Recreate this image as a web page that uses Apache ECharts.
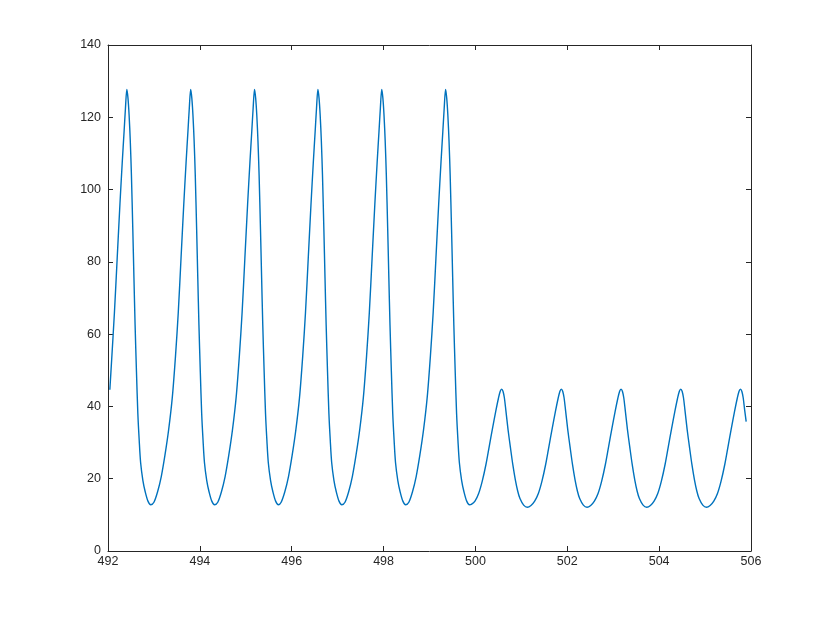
<!DOCTYPE html>
<html>
<head>
<meta charset="utf-8">
<script src="https://cdn.jsdelivr.net/npm/echarts@6/dist/echarts.min.js"></script>
<style>
  html, body { margin: 0; padding: 0; background: #fff; }
  #chart { width: 830px; height: 620px; }
</style>
</head>
<body>
<div id="chart"></div>
<script>
// x positions and values
const xValues = [
  492.04, 492.08, 492.14, 492.20, 492.26, 492.31, 492.35, 492.38, 492.41,
  492.435, 492.46, 492.485, 492.51, 492.54, 492.565, 492.59, 492.62, 492.65, 492.68, 492.71, 492.76, 492.81, 492.87, 492.93,
  493.00, 493.08, 493.16, 493.24, 493.32, 493.40, 493.47, 493.53, 493.59, 493.65, 493.70, 493.74, 493.77, 493.80,
  493.825, 493.85, 493.875, 493.90, 493.93, 493.955, 493.98, 494.01, 494.04, 494.07, 494.10, 494.15, 494.20, 494.26, 494.32,
  494.39, 494.47, 494.55, 494.63, 494.71, 494.79, 494.86, 494.92, 494.98, 495.04, 495.09, 495.13, 495.16, 495.19,
  495.215, 495.24, 495.265, 495.29, 495.32, 495.345, 495.37, 495.40, 495.43, 495.46, 495.49, 495.54, 495.59, 495.65, 495.71,
  495.77, 495.85, 495.93, 496.01, 496.09, 496.17, 496.24, 496.30, 496.36, 496.42, 496.47, 496.51, 496.54, 496.57,
  496.595, 496.62, 496.645, 496.67, 496.70, 496.725, 496.75, 496.78, 496.81, 496.84, 496.87, 496.92, 496.97, 497.03, 497.09,
  497.16, 497.24, 497.32, 497.40, 497.48, 497.56, 497.63, 497.69, 497.75, 497.81, 497.86, 497.90, 497.93, 497.96,
  497.985, 498.01, 498.035, 498.06, 498.09, 498.115, 498.14, 498.17, 498.20, 498.23, 498.26, 498.31, 498.36, 498.42, 498.48,
  498.55, 498.63, 498.71, 498.79, 498.87, 498.95, 499.02, 499.08, 499.14, 499.20, 499.25, 499.29, 499.32, 499.35,
  499.375, 499.40, 499.425, 499.45, 499.48, 499.505, 499.53, 499.56, 499.59, 499.62, 499.65, 499.70, 499.75, 499.81, 499.87,
  499.91, 499.99, 500.07, 500.15, 500.23, 500.30, 500.37, 500.44, 500.50, 500.54, 500.57,
  500.60, 500.63, 500.66, 500.71, 500.76, 500.815, 500.87, 500.92, 500.97, 501.05, 501.13,
  501.21, 501.29, 501.37, 501.45, 501.53, 501.60, 501.67, 501.74, 501.80, 501.84, 501.87,
  501.90, 501.93, 501.96, 502.01, 502.06, 502.115, 502.17, 502.22, 502.27, 502.35, 502.43,
  502.51, 502.59, 502.67, 502.75, 502.83, 502.90, 502.97, 503.04, 503.10, 503.14, 503.17,
  503.20, 503.23, 503.26, 503.31, 503.36, 503.415, 503.47, 503.52, 503.57, 503.65, 503.73,
  503.81, 503.89, 503.97, 504.05, 504.13, 504.20, 504.27, 504.34, 504.40, 504.44, 504.47,
  504.50, 504.53, 504.56, 504.61, 504.66, 504.715, 504.77, 504.82, 504.87, 504.95, 505.03,
  505.11, 505.19, 505.27, 505.35, 505.43, 505.50, 505.57, 505.64, 505.70, 505.74, 505.77,
  505.80, 505.83, 505.86, 505.895
]

const yValues = [
  44.6, 53, 66, 81, 96, 107.5, 116, 122.5, 127.7,
  125.3, 120.5, 113.5, 104, 89, 75.5, 62.5, 49.5, 38, 30.5, 24.5, 19.5, 16.4, 13.8, 12.8,
  13.5, 16.4, 20.6, 26.5, 33.5, 42.5, 54, 66, 81, 96, 107.5, 116, 122.5, 127.7,
  125.3, 120.5, 113.5, 104, 89, 75.5, 62.5, 49.5, 38, 30.5, 24.5, 19.5, 16.4, 13.8, 12.8,
  13.5, 16.4, 20.6, 26.5, 33.5, 42.5, 54, 66, 81, 96, 107.5, 116, 122.5, 127.7,
  125.3, 120.5, 113.5, 104, 89, 75.5, 62.5, 49.5, 38, 30.5, 24.5, 19.5, 16.4, 13.8, 12.8,
  13.5, 16.4, 20.6, 26.5, 33.5, 42.5, 54, 66, 81, 96, 107.5, 116, 122.5, 127.7,
  125.3, 120.5, 113.5, 104, 89, 75.5, 62.5, 49.5, 38, 30.5, 24.5, 19.5, 16.4, 13.8, 12.8,
  13.5, 16.4, 20.6, 26.5, 33.5, 42.5, 54, 66, 81, 96, 107.5, 116, 122.5, 127.7,
  125.3, 120.5, 113.5, 104, 89, 75.5, 62.5, 49.5, 38, 30.5, 24.5, 19.5, 16.4, 13.8, 12.8,
  13.5, 16.4, 20.6, 26.5, 33.5, 42.5, 54, 66, 81, 96, 107.5, 116, 122.5, 127.7,
  125.3, 120.5, 113.5, 104, 89, 75.5, 62.5, 49.5, 38, 30.5, 24.5, 19.5, 16.4, 13.8, 12.8,
  12.9, 13.8, 15.9, 19.4, 24.0, 28.9, 33.8, 38.5, 42.2, 44.2, 44.8,
  44.2, 42.4, 39.2, 33.6, 28.8, 23.8, 19.6, 16.6, 14.5, 12.7, 12.1,
  12.6, 13.8, 15.9, 19.4, 24.0, 28.9, 33.8, 38.5, 42.2, 44.2, 44.8,
  44.2, 42.4, 39.2, 33.6, 28.8, 23.8, 19.6, 16.6, 14.5, 12.7, 12.1,
  12.6, 13.8, 15.9, 19.4, 24.0, 28.9, 33.8, 38.5, 42.2, 44.2, 44.8,
  44.2, 42.4, 39.2, 33.6, 28.8, 23.8, 19.6, 16.6, 14.5, 12.7, 12.1,
  12.6, 13.8, 15.9, 19.4, 24.0, 28.9, 33.8, 38.5, 42.2, 44.2, 44.8,
  44.2, 42.4, 39.2, 33.6, 28.8, 23.8, 19.6, 16.6, 14.5, 12.7, 12.1,
  12.6, 13.8, 15.9, 19.4, 24.0, 28.9, 33.8, 38.5, 42.2, 44.2, 44.8,
  44.2, 42.4, 39.2, 35.8
]

const xTicks = [492, 506, 2]   // min, max, step
const yTicks = [0, 140, 20]

const axisColor = '#262626'
const labelFont = 'Liberation Sans, Arial, sans-serif'
const chart = echarts.init(document.getElementById('chart'), null, { renderer: 'canvas' })

const lineData = xValues.map((x, i) => [x, yValues[i]])

// common look for the box axes (matlab style, ticks inside)
function boxAxis(extra) {
  return Object.assign({
    type: 'value',
    axisLine: { show: true, onZero: false, lineStyle: { color: axisColor, width: 1 } },
    axisTick: { show: true, inside: true, length: 5, lineStyle: { color: axisColor } },
    splitLine: { show: false }
  }, extra)
}

const option = {
  animation: false,
  backgroundColor: '#fff',
  grid: { left: 108, right: 79, top: 45, bottom: 69, containLabel: false },
  xAxis: [
    boxAxis({ min: xTicks[0], max: xTicks[1], interval: xTicks[2], position: 'bottom',
      axisLabel: { color: axisColor, fontFamily: labelFont, fontSize: 12.5, margin: 4 } }),
    boxAxis({ min: xTicks[0], max: xTicks[1], interval: xTicks[2], position: 'top',
      axisLabel: { show: false } })
  ],
  yAxis: [
    boxAxis({ min: yTicks[0], max: yTicks[1], interval: yTicks[2], position: 'left',
      axisLabel: { color: axisColor, fontFamily: labelFont, fontSize: 12.5, margin: 7 } }),
    boxAxis({ min: yTicks[0], max: yTicks[1], interval: yTicks[2], position: 'right',
      axisLabel: { show: false } })
  ],
  series: [
    {
      type: 'line',
      data: lineData,
      xAxisIndex: 0,
      yAxisIndex: 0,
      showSymbol: false,
      smooth: 0.3,
      lineStyle: { color: '#0072BD', width: 1.4 }
    }
  ]
}

chart.setOption(option)
</script>
</body>
</html>
